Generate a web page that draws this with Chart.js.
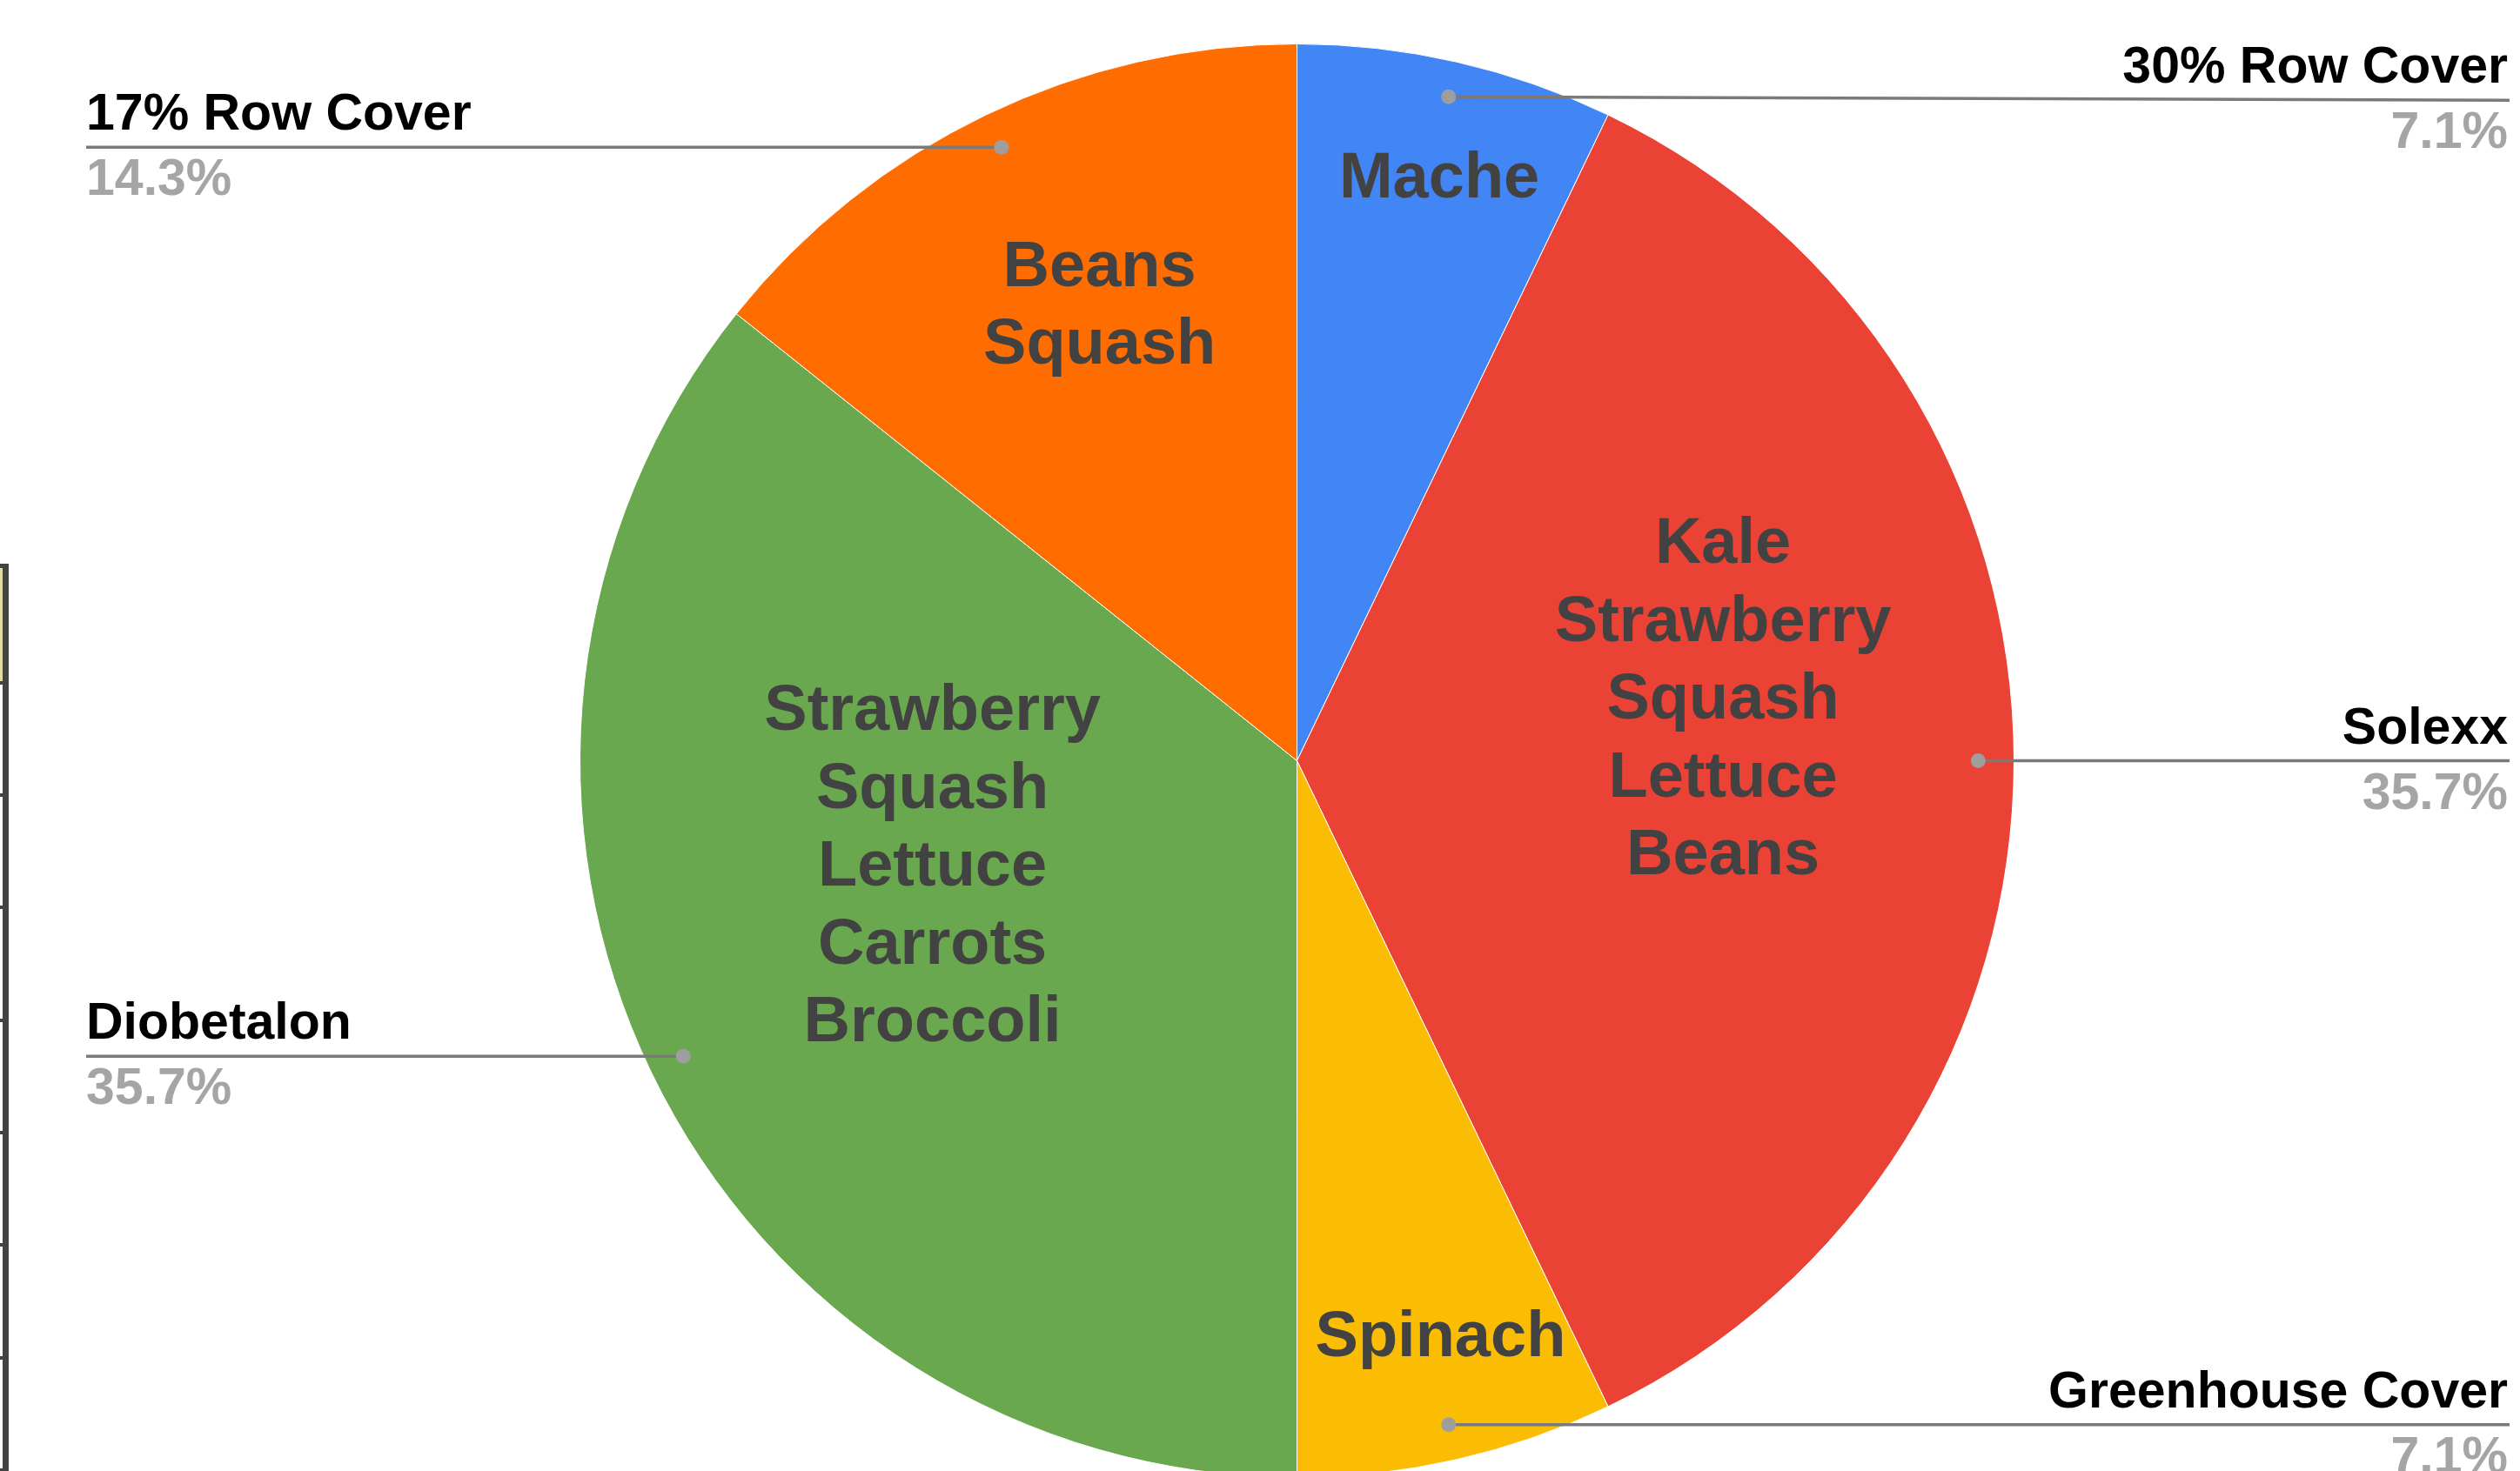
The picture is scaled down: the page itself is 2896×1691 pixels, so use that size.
<!DOCTYPE html>
<html>
<head>
<meta charset="utf-8">
<title>Row covers and crops</title>
<script src="https://cdn.jsdelivr.net/npm/chart.js@4"></script>
<style>
  html, body { margin: 0; padding: 0; background: #fff; overflow: hidden; }
  #wrap { position: absolute; left: 0; top: 0; width: 2896px; height: 1720px; }
  .sheet { position: absolute; background: #434343; }
</style>
</head>
<body>
<div id="wrap"><canvas id="pieChart" width="2896" height="1720"></canvas></div>
<div id="sheetEdge"></div>
<script>
// slice data, clockwise from 12 o'clock
const coverNames = ['30% Row Cover', 'Solexx', 'Greenhouse Cover', 'Diobetalon', '17% Row Cover'];
const coverCounts = [1, 5, 1, 5, 2];
const cropLists = [
  ['Mache'],
  ['Kale', 'Strawberry', 'Squash', 'Lettuce', 'Beans'],
  ['Spinach'],
  ['Strawberry', 'Squash', 'Lettuce', 'Carrots', 'Broccoli'],
  ['Beans', 'Squash']
];
const sliceColors = ['#4285F4', '#EA4335', '#FBBC04', '#6AA84F', '#FF6D01'];

// where the crop names sit inside each slice (fraction of radius, turn in degrees)
const cropRadius = [0.835, 0.60, 0.83, 0.53, 0.69];
const cropTurn = [0.9, -8.0, -1.1, 9.3, 2.2];
// small vertical nudge of the outside label line (px)
const calloutLift = [4, 0, 0, 0, 0];

const FONT = '"Liberation Sans", Arial, sans-serif';

// bit of the spreadsheet grid peeking in at the left edge
const edge = document.getElementById('sheetEdge');
function block(x, y, w, h, color) {
  const d = document.createElement('div');
  d.className = 'sheet';
  d.style.left = x + 'px'; d.style.top = y + 'px';
  d.style.width = w + 'px'; d.style.height = h + 'px';
  if (color) d.style.background = color;
  edge.appendChild(d);
}
block(0, 653, 3, 130, '#e0dca8');
block(3, 648, 7, 1043);
block(0, 648, 10, 5);
[783, 912, 1041, 1171, 1300, 1429, 1559, 1688].forEach(y => block(0, y, 10, 4));

const calloutPlugin = {
  id: 'callouts',
  afterDatasetsDraw(chart) {
    const ctx = chart.ctx;
    const meta = chart.getDatasetMeta(0);
    const total = coverCounts.reduce((a, b) => a + b, 0);
    ctx.save();
    meta.data.forEach((arc, i) => {
      const p = arc.getProps(['x', 'y', 'startAngle', 'endAngle', 'outerRadius'], true);
      const mid = (p.startAngle + p.endAngle) / 2;

      // crop names inside the slice
      const a = mid + cropTurn[i] * Math.PI / 180;
      const lx = p.x + Math.cos(a) * p.outerRadius * cropRadius[i];
      const ly = p.y + Math.sin(a) * p.outerRadius * cropRadius[i];
      const lines = cropLists[i];
      const lh = 89.5;
      ctx.font = 'bold 74px ' + FONT;
      ctx.fillStyle = '#424242';
      ctx.textAlign = 'center';
      ctx.textBaseline = 'middle';
      lines.forEach((t, k) => {
        ctx.fillText(t, lx, ly + (k - (lines.length - 1) / 2) * lh);
      });

      // leader line with dot, name and share
      const dx = p.x + Math.cos(mid) * p.outerRadius * 0.95;
      const dy = p.y + Math.sin(mid) * p.outerRadius * 0.95;
      const ty = dy + calloutLift[i];
      const right = Math.cos(mid) > 0;
      const endX = right ? chart.width - 12 : 99;
      ctx.strokeStyle = '#7a7a7a';
      ctx.lineWidth = 3.5;
      ctx.beginPath();
      ctx.moveTo(dx, dy);
      ctx.lineTo(endX, ty);
      ctx.stroke();
      ctx.fillStyle = '#9e9e9e';
      ctx.beginPath();
      ctx.arc(dx, dy, 8.5, 0, Math.PI * 2);
      ctx.fill();

      ctx.font = 'bold 59px ' + FONT;
      ctx.textAlign = right ? 'right' : 'left';
      ctx.textBaseline = 'alphabetic';
      const tx = right ? chart.width - 14 : 99;
      ctx.fillStyle = '#000';
      ctx.fillText(coverNames[i], tx, ty - 20);
      ctx.fillStyle = '#a5a5a5';
      ctx.fillText((coverCounts[i] / total * 100).toFixed(1) + '%', tx, ty + 55);
    });
    ctx.restore();
  }
};

new Chart(document.getElementById('pieChart'), {
  type: 'pie',
  data: {
    labels: coverNames,
    datasets: [{
      data: coverCounts,
      backgroundColor: sliceColors,
      borderColor: '#ffffff',
      borderWidth: 1
    }]
  },
  options: {
    responsive: false,
    animation: false,
    devicePixelRatio: 1,
    layout: { padding: { left: 666, right: 581, top: 50, bottom: 21 } },
    plugins: {
      legend: { display: false },
      tooltip: { enabled: false }
    }
  },
  plugins: [calloutPlugin]
});
</script>
</body>
</html>
